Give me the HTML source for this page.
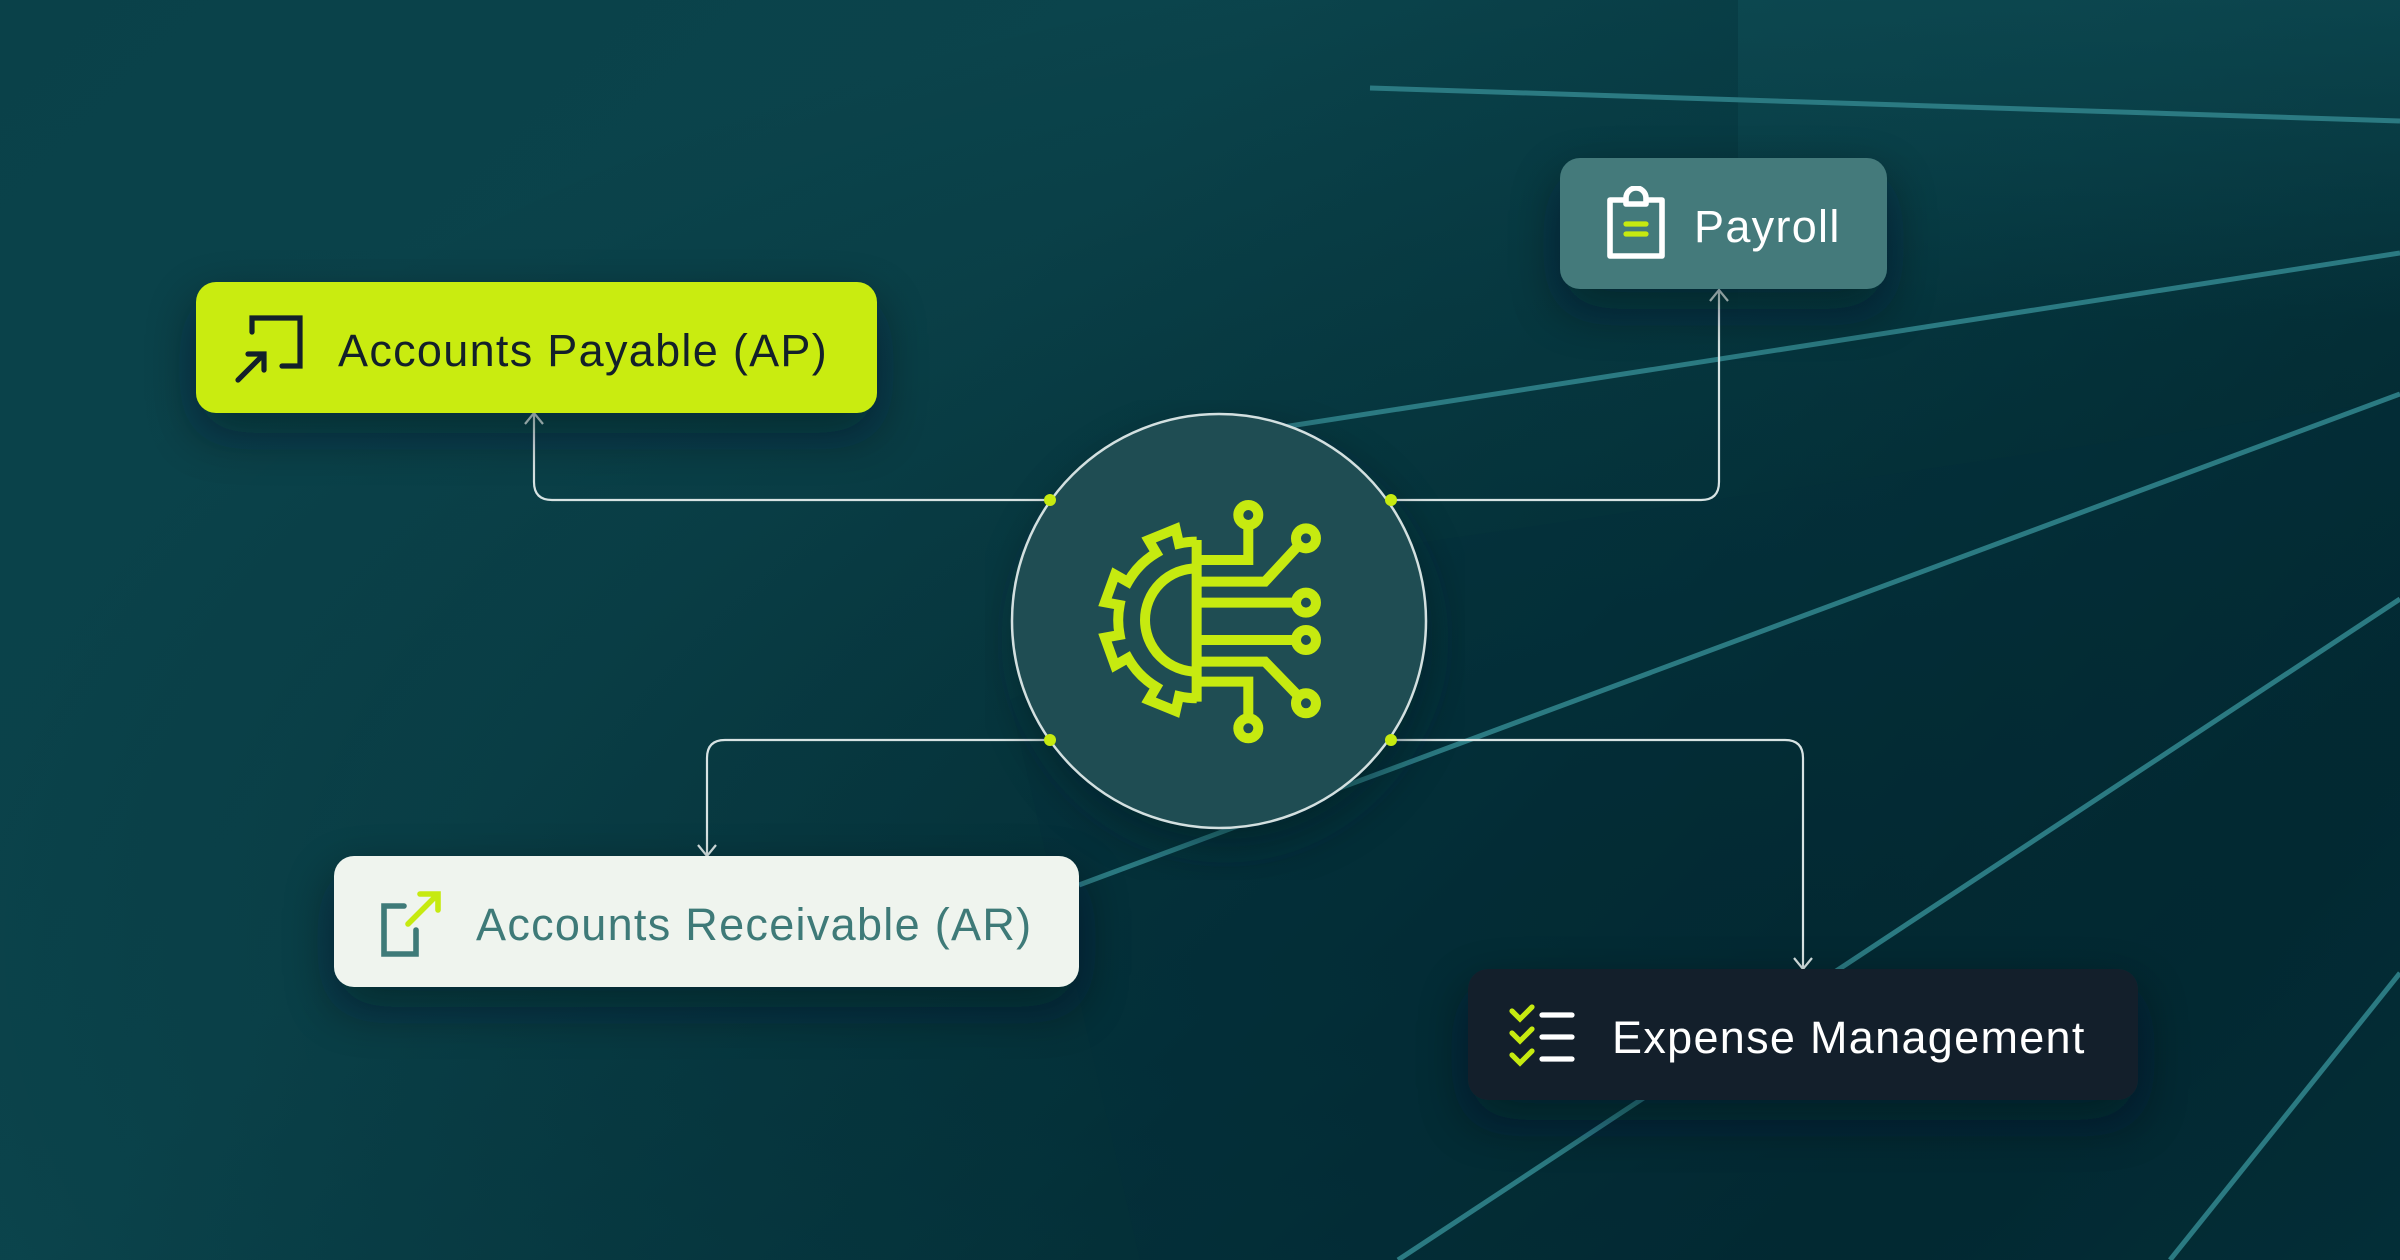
<!DOCTYPE html>
<html><head><meta charset="utf-8"><style>
html,body{margin:0;padding:0;}
body{width:2400px;height:1260px;overflow:hidden;position:relative;font-family:"Liberation Sans",sans-serif;
background:linear-gradient(135deg,#0a4149 0%,#0b444c 35%,#063a43 60%,#032a32 85%,#05353d 100%);}
svg{position:absolute;left:0;top:0;}
.box{position:absolute;border-radius:20px;display:flex;align-items:center;box-sizing:border-box;font-size:45px;font-weight:500;letter-spacing:1.3px;white-space:nowrap;}
.box svg{position:static;flex:none;}
.box span{position:relative;top:3px;}
</style></head><body>
<svg width="2400" height="1260" viewBox="0 0 2400 1260">
  <defs>
    <radialGradient id="g1" cx="0.75" cy="0.75" r="0.8">
      <stop offset="0" stop-color="#02242b" stop-opacity="0.7"/>
      <stop offset="1" stop-color="#02242b" stop-opacity="0"/>
    </radialGradient>
    <linearGradient id="pn" x1="0" y1="0" x2="0" y2="1">
      <stop offset="0" stop-color="#0f4d55" stop-opacity="0.6"/>
      <stop offset="1" stop-color="#0f4d55" stop-opacity="0"/>
    </linearGradient>
    <filter id="blur"><feGaussianBlur stdDeviation="25"/></filter>
    <filter id="sh" x="-30%" y="-30%" width="160%" height="180%"><feDropShadow dx="0" dy="20" stdDeviation="25" flood-color="#01161b" flood-opacity="0.55"/></filter>
  </defs>
  <rect x="0" y="0" width="2400" height="1260" fill="url(#g1)"/>
  <rect x="1738" y="0" width="662" height="320" fill="url(#pn)"/>
  <polygon points="1010,700 1300,560 2400,400 2400,1260 1140,1260" fill="#03303a" opacity="0.3"/>
  <g stroke="#2b7a82" stroke-width="5" fill="none">
    <line x1="1370" y1="88" x2="2400" y2="121"/>
    <line x1="1200" y1="440" x2="2400" y2="253"/>
    <line x1="1079" y1="885" x2="2400" y2="394"/>
    <line x1="1398" y1="1260" x2="2400" y2="599"/>
    <line x1="2170" y1="1260" x2="2400" y2="973"/>
  </g>
  <g stroke="#d7e3e3" stroke-width="2.2" fill="none">
    <path d="M1050 500 H552 Q534 500 534 482 V414"/>
    <path d="M525 424 L534 413 L543 424"/>
    <path d="M1391 500 H1701 Q1719 500 1719 482 V290"/>
    <path d="M1710 301 L1719 290 L1728 301"/>
    <path d="M1050 740 H725 Q707 740 707 758 V855"/>
    <path d="M698 845 L707 856 L716 845"/>
    <path d="M1391 740 H1785 Q1803 740 1803 758 V968"/>
    <path d="M1794 958 L1803 969 L1812 958"/>
  </g>
  <circle cx="1225" cy="640" r="200" fill="#021c22" opacity="0.6" filter="url(#blur)"/>
  <circle cx="1219" cy="621" r="207" fill="#1f4d53"/>
  <circle cx="1219" cy="621" r="207" fill="none" stroke="#d3e0e0" stroke-width="2.5"/>
  <g fill="#c6ea10">
    <circle cx="1050" cy="500" r="6"/><circle cx="1391" cy="500" r="6"/>
    <circle cx="1050" cy="740" r="6"/><circle cx="1391" cy="740" r="6"/>
  </g>
  <g transform="translate(1000,400) scale(0.3333)" stroke="#c6ea10" stroke-width="30" fill="none" stroke-linejoin="miter">
    <path d="M590 420 V905"/>
    <path d="M590 425 A235 235 0 0 0 537 431 L527 387 L446 420 L469 459 A235 235 0 0 0 384 546 L345 524 L315 607 L359 615 A235 235 0 0 0 359 705 L315 713 L345 796 L384 774 A235 235 0 0 0 469 861 L446 900 L527 933 L537 889 A235 235 0 0 0 590 895"/>
    <path d="M590 505 A155 155 0 0 0 590 815"/>
    <path d="M590 480 H745 V375"/>
    <circle cx="745" cy="345" r="30"/>
    <path d="M590 545 H795 L895 437"/>
    <circle cx="918" cy="415" r="30"/>
    <path d="M590 608 H888"/>
    <circle cx="918" cy="608" r="30"/>
    <path d="M590 720 H888"/>
    <circle cx="918" cy="720" r="30"/>
    <path d="M590 785 H795 L895 888"/>
    <circle cx="918" cy="910" r="30"/>
    <path d="M590 845 H745 V955"/>
    <circle cx="745" cy="985" r="30"/>
  </g>
  <g filter="url(#sh)" opacity="0.9">
    <rect x="196" y="282" width="681" height="131" rx="20" fill="#0a3a41"/>
    <rect x="1560" y="158" width="327" height="131" rx="20" fill="#0a3a41"/>
    <rect x="334" y="856" width="745" height="131" rx="20" fill="#0a3a41"/>
    <rect x="1468" y="969" width="670" height="131" rx="20" fill="#0a3a41"/>
  </g>
</svg>

<div class="box" style="left:196px;top:282px;width:681px;height:131px;background:#c9ec10;color:#13202a;padding-left:38px;">
  <svg width="72" height="72" viewBox="0 0 36 36"><g stroke="#13202a" stroke-width="2.6" fill="none" stroke-linecap="round"><path d="M9 10 V3 H33 V27 H24"/><path d="M2 34 L14 22 M7 21 H15 V29"/></g></svg>
  <span style="margin-left:32px;">Accounts Payable (AP)</span>
</div>

<div class="box" style="left:1560px;top:158px;width:327px;height:131px;background:#447a7b;color:#fff;padding-left:44px;">
  <svg width="64" height="76" viewBox="0 0 32 38"><g fill="none" stroke="#fff" stroke-width="2.8" stroke-linejoin="round"><path d="M11 7 H3 V35 H29 V7 H21"/><path d="M11 9 V6 A5 5 0 0 1 21 6 V9 Z"/></g><g stroke="#c6ea10" stroke-width="2.6" stroke-linecap="round"><path d="M11 19 H21 M11 24 H21"/></g></svg>
  <span style="margin-left:26px;">Payroll</span>
</div>

<div class="box" style="left:334px;top:856px;width:745px;height:131px;background:#eff4ee;color:#3e7a78;padding-left:42px;">
  <svg width="70" height="72" viewBox="0 0 35 36"><g fill="none" stroke-width="2.8" stroke-linecap="round"><path d="M14 10 H4 V34 H20 V22" stroke="#3e7a78"/><path d="M16 19 L31 4 M22 4 H31 V12" stroke="#c6ea10"/></g></svg>
  <span style="margin-left:30px;">Accounts Receivable (AR)</span>
</div>

<div class="box" style="left:1468px;top:969px;width:670px;height:131px;background:#131f2b;color:#fff;padding-left:40px;">
  <svg width="70" height="64" viewBox="0 0 35 32"><g fill="none" stroke-width="2.6" stroke-linecap="round"><path d="M2 4 L6 8 L12 2 M2 15 L6 19 L12 13 M2 26 L6 30 L12 24" stroke="#c6ea10"/><path d="M17 6 H32 M17 17 H32 M17 28 H32" stroke="#fff"/></g></svg>
  <span style="margin-left:34px;">Expense Management</span>
</div>
</body></html>
